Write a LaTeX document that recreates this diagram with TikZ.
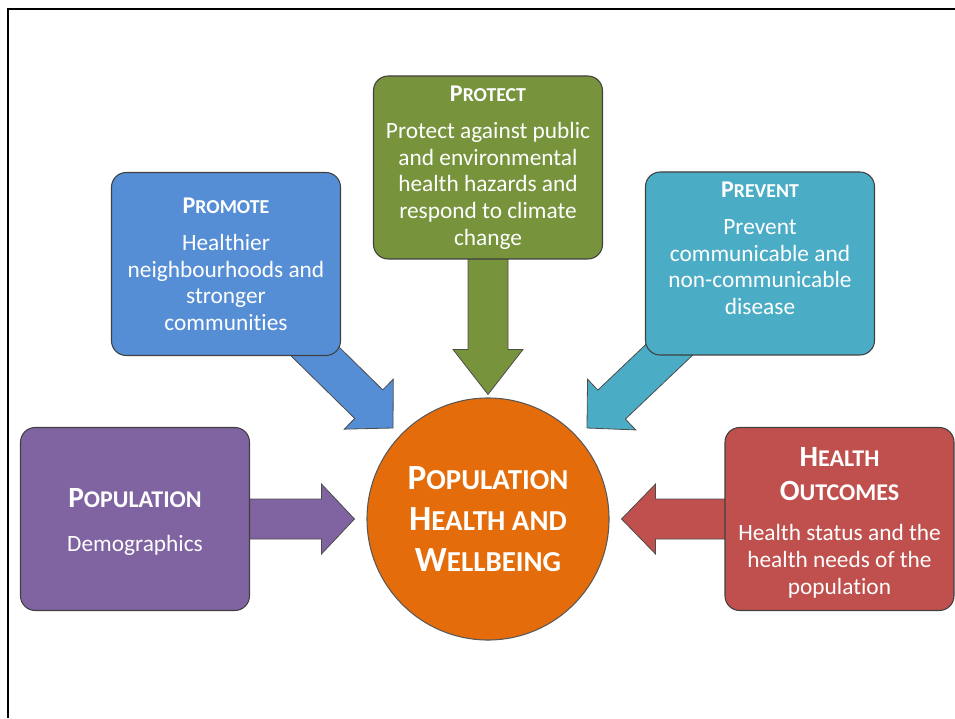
\documentclass[tikz,border=0pt]{standalone}
\usepackage{fontspec}
\setmainfont[Ligatures=NoCommon]{Carlito}
\usetikzlibrary{calc,positioning,shapes}

\definecolor{promoteblue}{RGB}{85,142,213}
\definecolor{protectgreen}{RGB}{119,147,60}
\definecolor{preventteal}{RGB}{75,172,198}
\definecolor{popviolet}{RGB}{128,100,162}
\definecolor{outcomered}{RGB}{192,80,77}
\definecolor{huborange}{RGB}{228,108,10}

% fake small caps: big first letter, smaller rest
\newcommand{\sct}[4]{{\fontsize{#1}{#1}\selectfont #3}{\fontsize{#2}{#2}\selectfont #4}}

% block arrow: colour, tail, tip, head length
\newcommand{\blockarrow}[4]{%
  \coordinate (ab) at ($(#3)!#4!(#2)$);
  \filldraw[fill=#1, draw=black!70, line width=.6pt]
    ($(#2)!15pt!90:(#3)$) -- ($(ab)!15pt!90:(#3)$) -- ($(ab)!26.25pt!90:(#3)$) -- (#3)
    -- ($(ab)!26.25pt!-90:(#3)$) -- ($(ab)!15pt!-90:(#3)$) -- ($(#2)!15pt!-90:(#3)$) -- cycle;
}

\pgfdeclarelayer{bg}
\pgfsetlayers{bg,main}

\tikzset{
  panel/.style={draw=black!75, line width=.8pt, rounded corners=11pt,
    minimum width=171.75pt, minimum height=137.25pt, inner sep=0pt},
  paneltext/.style={text=white, align=center, inner sep=0pt,
    font=\fontsize{17.5}{20}\selectfont},
  hubnode/.style={circle, draw=black!65, line width=.8pt, fill=huborange,
    minimum size=181.5pt, inner sep=0pt, text=white, align=center,
    font=\bfseries\fontsize{26.5}{31}\selectfont}
}

\begin{document}
\begin{tikzpicture}[x=.75pt, y=.75pt]
\useasboundingbox (0,0) rectangle (955,718);
% frame
\draw[line width=.9pt] (8,0) -- (8,709) -- (955,709);
% centre
\node[hubnode] (hub) at (488,199) {\sct{26.5}{21.7}{P}{OPULATION}\\\sct{26.5}{21.7}{H}{EALTH AND}\\\sct{26.5}{21.7}{W}{ELLBEING}};
% panels
\node[panel, fill=promoteblue] (promote) at (226,454) {};
\node[panel, fill=protectgreen] (protect) at (488,550.5) {};
\node[panel, fill=preventteal] (prevent) at (760,454.5) {};
\node[panel, fill=popviolet] (population) at (135,199) {};
\node[panel, fill=outcomered] (outcomes) at (839.5,199) {};
% panel texts
\node[paneltext] (promotetext) at (promote) {\textbf{\sct{18}{14.8}{P}{ROMOTE}}\\[8pt]Healthier\\neighbourhoods and\\stronger\\communities};
\node[paneltext] (protecttext) at (protect) {\textbf{\sct{18}{14.8}{P}{ROTECT}}\\[8pt]Protect against public\\and environmental\\health hazards and\\respond to climate\\change};
\node[paneltext] (preventtext) at ($(prevent)+(0,15.5)$) {\textbf{\sct{18}{14.8}{P}{REVENT}}\\[8pt]Prevent\\communicable and\\non-communicable\\disease};
\node[paneltext] (populationtext) at ($(population)+(0,-3)$) {\textbf{\sct{22}{18}{P}{OPULATION}}\\[13pt]Demographics};
\node[paneltext] (outcomestext) at ($(outcomes)+(0,-3.5)$) {\textbf{\sct{22}{18}{H}{EALTH}}\\[6pt]\textbf{\sct{22}{18}{O}{UTCOMES}}\\[10pt]Health status and the\\health needs of the\\population};
% arrow tips
\coordinate (tipW) at ($(hub.west)+(-12,0)$);
\coordinate (tipE) at ($(hub.east)+(12,0)$);
\coordinate (tipN) at ($(hub.north)+(0,3)$);
\coordinate (tipNW) at ($(hub)+(-95,91)$);
\coordinate (tipNE) at ($(hub)+(99,91)$);
% arrows behind the panels
\begin{pgfonlayer}{bg}
\blockarrow{popviolet}{population}{tipW}{24.75pt}
\blockarrow{outcomered}{outcomes}{tipE}{25.5pt}
\blockarrow{protectgreen}{protect}{tipN}{33.75pt}
\blockarrow{promoteblue}{promote}{tipNW}{25.5pt}
\blockarrow{preventteal}{prevent}{tipNE}{25.5pt}
\end{pgfonlayer}
\end{tikzpicture}
\end{document}
